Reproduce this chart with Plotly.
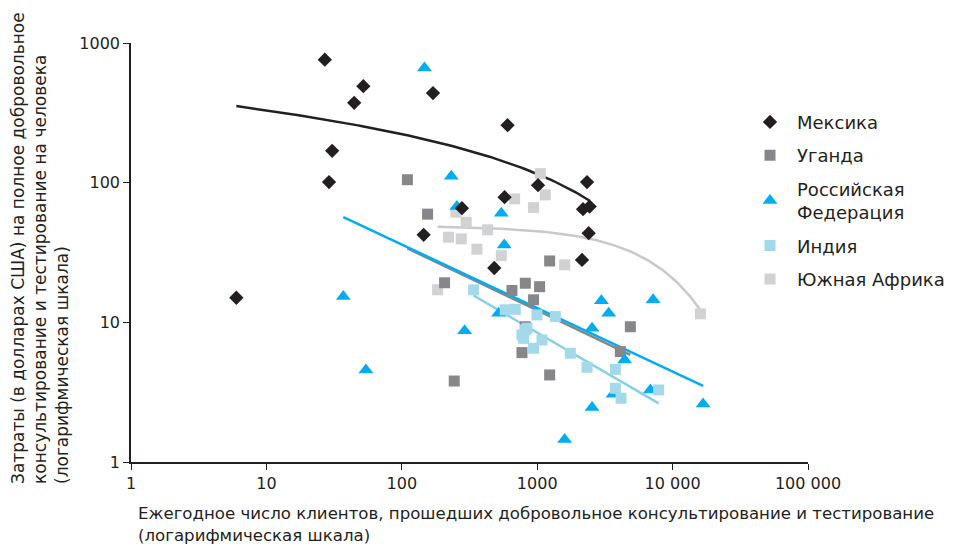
import numpy as np
import plotly.graph_objects as go

# ---------------- data ----------------
mexico_x = [6, 27, 30.6, 29, 44.5, 52, 170, 604, 1014, 2334, 2180, 2440, 574, 278, 145, 482, 2400, 2143]
mexico_y = [15, 760, 169, 101, 373, 491, 438, 258, 96, 101, 64.6, 67.4, 78.7, 65.7, 42.3, 24.5, 43.5, 28]

uganda_x = [110, 155, 207, 1236, 817, 1042, 651, 940, 4875, 4112, 772, 1236, 244, 817]
uganda_y = [105, 59.5, 19.2, 27.5, 19.05, 18, 16.9, 14.5, 9.3, 6.17, 6.07, 4.2, 3.8, 9.3]

russia_x = [147, 232, 255, 543, 571, 519, 291, 2977, 3373, 2541, 7177, 4427, 6855, 16800, 2541, 1595, 3633, 37, 54.3]
russia_y = [661, 111, 67.4, 60.5, 35.8, 11.6, 8.72, 14.3, 11.6, 9.07, 14.5, 5.38, 3.28, 2.6, 2.46, 1.45, 3.05, 15.3, 4.56]

india_x = [339, 581, 689, 996, 1361, 841, 772, 817, 794, 1085, 940, 1757, 2334, 3778, 3778, 4160, 7890]
india_y = [17.1, 12.3, 12.4, 11.3, 11, 9.07, 8.13, 8.83, 7.69, 7.48, 6.52, 6.01, 4.77, 4.61, 3.37, 2.86, 3.28]

safrica_x = [1054, 1148, 681, 940, 251, 299, 430, 221, 275, 359, 543, 1595, 184, 16040]
safrica_y = [116, 81.8, 76.5, 66.3, 61.5, 52.1, 46, 40.7, 39.6, 33.4, 30, 25.8, 17.1, 11.5]

x_tickvals = [1, 10, 100, 1000, 10000, 100000]
x_ticktext = ["1", "10", "100", "1000", "10 000", "100 000"]
y_tickvals = [1, 10, 100, 1000]
y_ticktext = ["1", "10", "100", "1000"]

names = ["Мексика", "Уганда", "Российская<br>Федерация", "Индия", "Южная Африка"]

FONT = "DejaVu Sans, Liberation Sans, Arial, sans-serif"
TXT = "#231f20"


# ---------------- trend lines fitted from the data ----------------
def xs_between(x):
    x = np.asarray(x, float)
    return np.logspace(np.log10(x.min()), np.log10(x.max()), 120)


def power_fit(x, y):
    x, y = np.asarray(x, float), np.asarray(y, float)
    b, a = np.polyfit(np.log(x), np.log(y), 1)
    xx = xs_between(x)
    return xx, np.exp(a) * xx ** b


def log_fit(x, y):
    x, y = np.asarray(x, float), np.asarray(y, float)
    b, a = np.polyfit(np.log(x), y, 1)
    xx = xs_between(x)
    return xx, a + b * np.log(xx)


def exp_fit(x, y):
    x, y = np.asarray(x, float), np.asarray(y, float)
    b, a = np.polyfit(x, np.log(y), 1)
    xx = xs_between(x)
    return xx, np.exp(a + b * xx)


fig = go.Figure()

series = [
    # name, x, y, symbol, color, line color, fit, legend rank
    (names[4], safrica_x, safrica_y, "square", "#d1d2d4", "#c9c9cb", exp_fit, 5),
    (names[1], uganda_x, uganda_y, "square", "#87878b", "#87878b", power_fit, 2),
    (names[2], russia_x, russia_y, "triangle-up", "#00aeef", "#00aeef", power_fit, 3),
    (names[3], india_x, india_y, "square", "#a3d9ea", "#86d0e8", power_fit, 4),
    (names[0], mexico_x, mexico_y, "diamond", "#231f20", "#231f20", log_fit, 1),
]

# trend lines first (under the markers)
for name, x, y, sym, col, lcol, fit, rank in series:
    xx, yy = fit(x, y)
    fig.add_trace(go.Scatter(x=xx, y=yy, mode="lines", line=dict(color=lcol, width=2.5),
                             showlegend=False, hoverinfo="skip"))

for name, x, y, sym, col, lcol, fit, rank in series:
    size = 13 if sym == "triangle-up" else 11
    fig.add_trace(go.Scatter(x=x, y=y, mode="markers", name=name, legendrank=rank,
                             legendgroup=name,
                             marker=dict(symbol=sym, color=col, size=size, line=dict(width=0))))

# the page body has an 8 px margin: plot area at page x 131..808, y 43..462
fig.update_layout(
    width=956, height=537,
    margin=dict(l=123, r=156, t=35, b=83, autoexpand=False),
    paper_bgcolor="white", plot_bgcolor="white",
    font=dict(family=FONT, size=17, color=TXT),
    showlegend=True,
    legend=dict(x=0.904, y=0.855, xanchor="left", yanchor="top",
                font=dict(size=18, family=FONT, color=TXT),
                traceorder="grouped", tracegroupgap=7, bgcolor="rgba(0,0,0,0)",
                itemwidth=44),
    xaxis=dict(type="log", range=[0, 5], showgrid=False, zeroline=False,
               showline=True, linecolor=TXT, linewidth=1.5,
               ticks="outside", ticklen=6, tickwidth=1.2, tickcolor=TXT,
               tickvals=x_tickvals, ticktext=x_ticktext, tickfont=dict(size=16)),
    yaxis=dict(type="log", range=[0, 3], showgrid=False, zeroline=False,
               showline=True, linecolor=TXT, linewidth=1.5,
               ticks="outside", ticklen=6, tickwidth=1.2, tickcolor=TXT,
               tickvals=y_tickvals, ticktext=y_ticktext, tickfont=dict(size=16)),
    annotations=[
        dict(text="Ежегодное число клиентов, прошедших добровольное консультирование и тестирование<br>(логарифмическая шкала)",
             xref="paper", yref="paper", x=(136 - 131) / 677, y=(462 - 502) / 419,
             xanchor="left", yanchor="top", align="left", showarrow=False,
             font=dict(size=16.6, family=FONT, color=TXT)),
        dict(text="Затраты (в долларах США) на полное добровольное<br>консультирование и тестирование на человека<br>(логарифмическая шкала)",
             xref="paper", yref="paper", x=(6 - 131) / 677, y=(462 - 486) / 419,
             xanchor="left", yanchor="bottom", align="left", textangle=-90, showarrow=False,
             font=dict(size=17, family=FONT, color=TXT)),
    ],
)

fig.write_html("out.html")
